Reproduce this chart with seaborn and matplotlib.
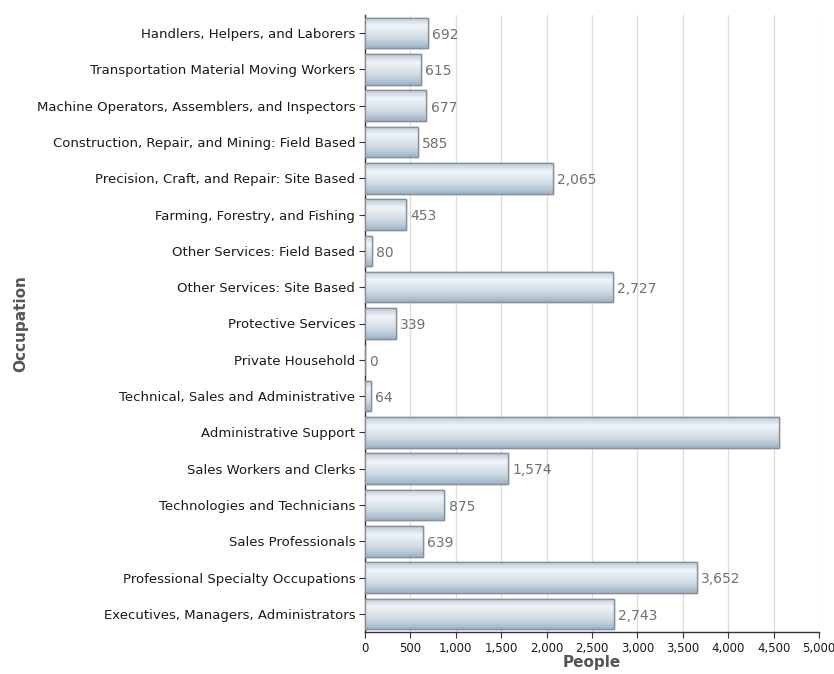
import matplotlib
matplotlib.use("Agg")
import matplotlib.pyplot as plt
import seaborn as sns
import numpy as np
import pandas as pd
from matplotlib.ticker import FuncFormatter

occupations = [
    "Handlers, Helpers, and Laborers",
    "Transportation Material Moving Workers",
    "Machine Operators, Assemblers, and Inspectors",
    "Construction, Repair, and Mining: Field Based",
    "Precision, Craft, and Repair: Site Based",
    "Farming, Forestry, and Fishing",
    "Other Services: Field Based",
    "Other Services: Site Based",
    "Protective Services",
    "Private Household",
    "Technical, Sales and Administrative",
    "Administrative Support",
    "Sales Workers and Clerks",
    "Technologies and Technicians",
    "Sales Professionals",
    "Professional Specialty Occupations",
    "Executives, Managers, Administrators",
]
people = [692, 615, 677, 585, 2065, 453, 80, 2727, 339, 0, 64, 4560, 1574, 875, 639, 3652, 2743]
show_label = [True] * 11 + [False] + [True] * 5
x_ticks = [0, 500, 1000, 1500, 2000, 2500, 3000, 3500, 4000, 4500, 5000]

df = pd.DataFrame({"Occupation": occupations, "People": people})

sns.set_theme(style="white")
plt.rcParams["font.family"] = ["DejaVu Sans"]

fig = plt.figure(figsize=(8.34, 6.74), dpi=100)
ax = fig.add_axes([365 / 834, 1 - 632 / 674, (819 - 365) / 834, (632 - 15) / 674])

sns.barplot(data=df, x="People", y="Occupation", color="#c9d8e4", edgecolor="#8a9099",
            linewidth=1.0, width=0.84, ax=ax, zorder=3)

ax.set_xticks(x_ticks)
ax.xaxis.set_major_formatter(FuncFormatter(lambda v, p: f"{int(v):,}"))
ax.grid(axis="x", color="#dddddd", linewidth=0.9, zorder=0)
ax.set_axisbelow(True)

# gradient overlay on bars
cvals = np.concatenate([np.linspace(0.80, 0.97, 18), np.linspace(0.97, 0.86, 26), np.linspace(0.86, 0.70, 20)])
cmap = matplotlib.colors.LinearSegmentedColormap.from_list("g", ["#9fb4c6", "#eef4f8"])
for patch in list(ax.patches):
    x0, y0 = patch.get_x(), patch.get_y()
    w, h = patch.get_width(), patch.get_height()
    if w <= 0:
        continue
    img = ax.imshow(cvals.reshape(-1, 1), cmap=cmap, vmin=0.70, vmax=0.97, aspect="auto",
                    extent=(x0, x0 + w, y0 + h, y0), zorder=3.5, interpolation="bicubic")
    img.set_clip_path(patch)
    p2 = matplotlib.patches.Rectangle((x0, y0), w, h, fill=False, edgecolor="#8a9099",
                                      linewidth=1.0, zorder=4)
    ax.add_patch(p2)

for i, (v, s) in enumerate(zip(people, show_label)):
    if s:
        ax.text(v + 45, i + 0.05, f"{v:,}", va="center", ha="left", fontsize=10,
                color="#707070", zorder=5)

ax.set_xlim(0, 5000)
ax.set_ylim(len(occupations) - 0.5, -0.5)

for sp in ["top", "right"]:
    ax.spines[sp].set_visible(False)
ax.spines["left"].set_color("#333333")
ax.spines["bottom"].set_color("#333333")
ax.spines["left"].set_linewidth(1.0)
ax.spines["bottom"].set_linewidth(1.0)

ax.tick_params(axis="y", left=True, length=4, width=0.8, color="#333333", labelsize=9.5,
               labelcolor="#1a1a1a", pad=3)
ax.tick_params(axis="x", bottom=True, length=4, width=0.8, color="#333333", labelsize=8.5,
               labelcolor="#1a1a1a", pad=3)

ax.set_xlabel("People", fontsize=11, fontweight="bold", color="#555555", labelpad=0)
ax.set_ylabel("Occupation", fontsize=11, fontweight="bold", color="#555555")
ax.yaxis.set_label_coords(-(365 - 28) / 454, 0.5)

fig.savefig("out.png", dpi=100)
